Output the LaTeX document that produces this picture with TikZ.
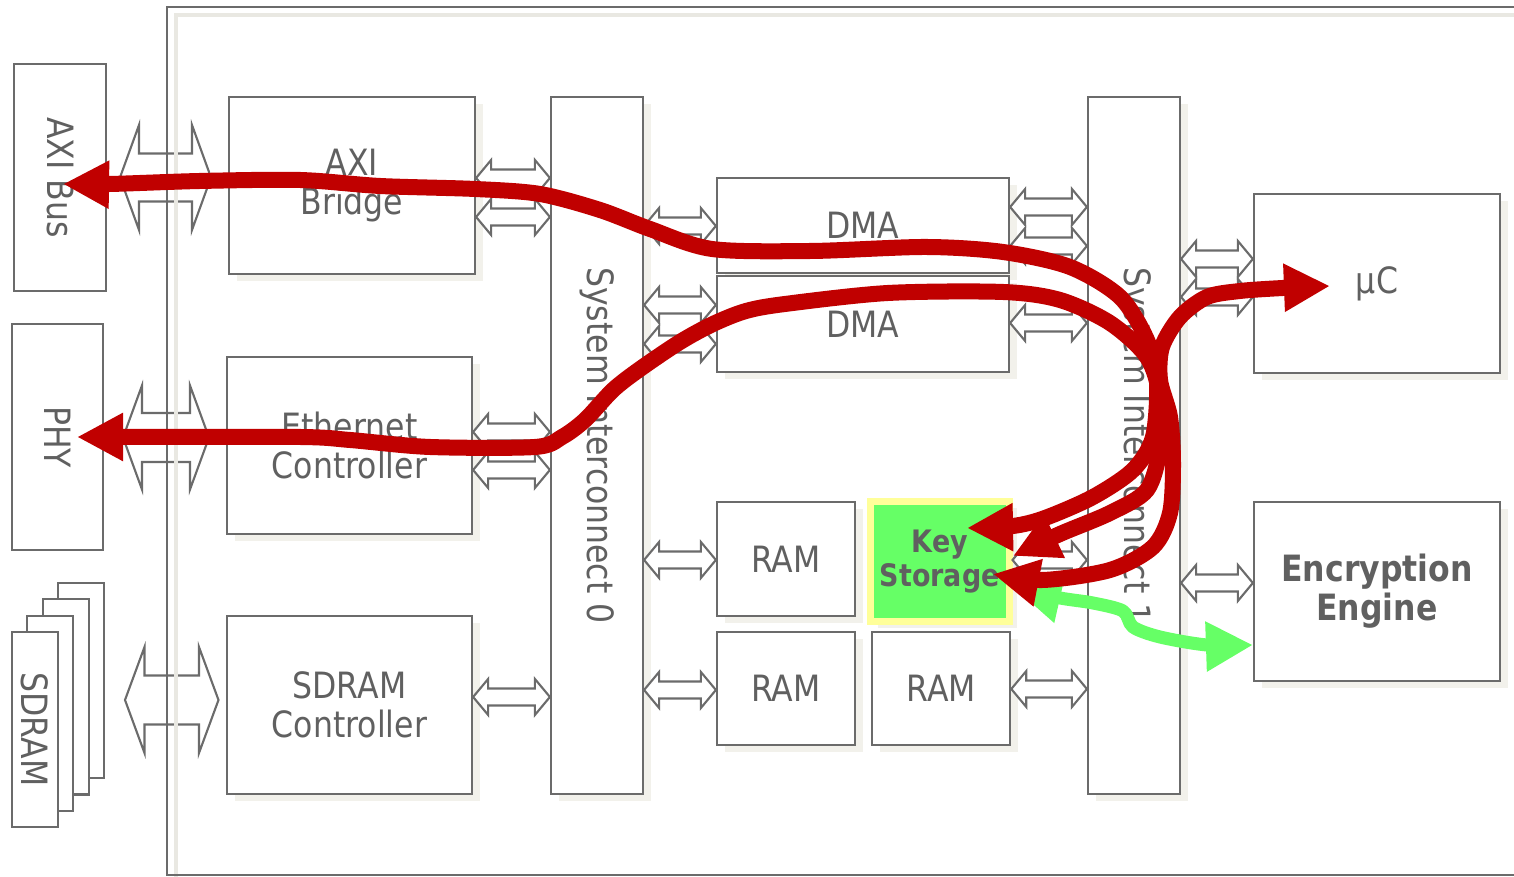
\documentclass[tikz,border=0pt]{standalone}
\usepackage{fontspec}
\setmainfont{DejaVu Sans}[FakeStretch=0.87]
\usepackage{graphicx}
\usetikzlibrary{arrows.meta, positioning, shadows, calc}

\definecolor{linegray}{HTML}{6B6B6B}
\definecolor{textgray}{HTML}{606060}
\definecolor{shadowc}{HTML}{F2F1EB}
\definecolor{framefaint}{HTML}{E9E8E2}
\definecolor{flowred}{HTML}{C00000}
\definecolor{keygreen}{HTML}{66FF66}
\definecolor{glowyellow}{HTML}{FFFF99}

\tikzset{
  redtip/.tip={Triangle[length=0.46cm, width=0.45cm]},
  greentip/.tip={Triangle[length=0.47cm, width=0.47cm]}
}

\newcommand\busarrow[5]{%
  \path #1 coordinate (ba) #2 coordinate (bb);
  \draw[bus] (ba) -- ($(ba)+(#5,-#4)$) -- ($(ba)+(#5,-#3)$) -- ($(bb)+(-#5,-#3)$)
    -- ($(bb)+(-#5,-#4)$) -- (bb) -- ($(bb)+(-#5,#4)$) -- ($(bb)+(-#5,#3)$)
    -- ($(ba)+(#5,#3)$) -- ($(ba)+(#5,#4)$) -- cycle;}

\begin{document}
\begin{tikzpicture}[x=0.01cm, y=-0.01cm,
    box/.style={draw=linegray, line width=0.6pt, fill=white, text=textgray, inner sep=0pt,
      align=center, font=\fontsize{10.3}{11}\selectfont},
    unit/.style={box, drop shadow={shadow xshift=0.08cm, shadow yshift=-0.07cm, fill=shadowc, opacity=1}},
    bus/.style={draw=linegray, line width=0.6pt, fill=white},
    redflow/.style={draw=flowred, line width=0.16cm, line join=round, redtip-redtip},
    greenflow/.style={draw=keygreen, line width=0.13cm, line join=round, greentip-greentip}]
  \useasboundingbox (0,0) rectangle (1514,877);
  % outside
  \node[box, minimum width=0.92cm, minimum height=2.27cm] (axibus) at (60,177.5) {\rotatebox{-90}{AXI Bus}};
  \node[box, minimum width=0.91cm, minimum height=2.26cm] (phy) at (57.5,437) {\rotatebox{-90}{PHY}};
  \foreach \i in {3,2,1}
    \node[box, minimum width=0.46cm, minimum height=1.95cm] (sdram\i) at (35+15.3*\i, 729.5-16.3*\i) {};
  \node[box, minimum width=0.46cm, minimum height=1.95cm] (sdram) at (35,729.5) {\rotatebox{-90}{SDRAM}};
  % chip
  \node[unit, minimum width=2.46cm, minimum height=1.77cm] (bridge) at (352,185.5) {AXI\\Bridge};
  \node[unit, minimum width=2.45cm, minimum height=1.77cm] (eth) at (349.5,445.5) {Ethernet\\Controller};
  \node[unit, minimum width=2.45cm, minimum height=1.78cm] (sdctrl) at (349.5,705) {SDRAM\\Controller};
  \node[unit, minimum width=0.92cm, minimum height=6.97cm] (si0) at (597,445.5) {\rotatebox{-90}{System Interconnect 0}};
  \node[unit, minimum width=2.92cm, minimum height=0.95cm] (dma1) at (863,225.5) {DMA};
  \node[unit, minimum width=2.92cm, minimum height=0.96cm, below=0.01cm of dma1] (dma2) {DMA};
  \node[unit, minimum width=1.38cm, minimum height=1.14cm] (ram1) at (786,559) {RAM};
  \node[unit, minimum width=1.38cm, minimum height=1.13cm] (ram2) at (786,688.5) {RAM};
  \node[unit, minimum width=1.38cm, minimum height=1.13cm, right=0.15cm of ram2] (ram3) {RAM};
  \node[unit, draw=glowyellow, fill=keygreen, line width=0.07cm, minimum width=1.385cm, minimum height=1.195cm,
    font=\bfseries\fontsize{8.8}{9.6}\selectfont] (key) at (939.75,561.25) {Key\\Storage};
  \node[unit, minimum width=0.92cm, minimum height=6.97cm] (si1) at (1134,445.5) {\rotatebox{-90}{System Interconnect 1}};
  \node[unit, minimum width=2.46cm, minimum height=1.79cm] (uc) at (1377,283.5) {µC};
  \node[unit, minimum width=2.46cm, minimum height=1.79cm, font=\bfseries\fontsize{10.3}{11}\selectfont] (enc) at (1377,591.5) {Encryption\\Engine};
  % ports
  \busarrow{(120,177.5)}{(211,177.5)}{24}{52.5}{19}
  \busarrow{(123,437.5)}{(209,437.5)}{24.5}{52}{19}
  \busarrow{(125,700)}{(218.5,700)}{24.5}{53}{19.5}
  \draw[framefaint, line width=0.04cm] (1514,15) -- (176,15) -- (176,877);
  \draw[linegray, line width=0.6pt] (1514,7) -- (167,7) -- (167,875) -- (1514,875);
  % buses
  \foreach \a/\b/\y in {bridge/si0/178, bridge/si0/217, eth/si0/432, eth/si0/470, sdctrl/si0/697,
      si0/dma1/226, si0/dma2/305, si0/dma2/344, si0/ram1/560, si0/ram2/690,
      dma1/si1/207, dma1/si1/246, dma2/si1/323, key/si1/560, ram3/si1/689,
      si1/uc/259, si1/uc/297, si1/enc/583}
    \busarrow{(\a.east |- 0,\y)}{(\b.west |- 0,\y)}{8.5}{18}{15};
  % flows
  \coordinate (axitip) at (63,184);
  \coordinate (phytip) at (77,437);
  \coordinate (uctip) at (1330,286);
  \coordinate (keytipa) at (967,528);
  \coordinate (keytipb) at (1013,556);
  \coordinate (keytipc) at (993,574);
  \coordinate (keytipg) at (1014,588);
  \coordinate (enctip) at (1253,645);
  \draw[greenflow] plot[smooth] coordinates {(keytipg) (1060,598) (1093,603) (1123,611) (1133,627)
    (1160,637) (1207,645) (enctip)};
  \draw[redflow] plot[smooth] coordinates {(axitip) (110,184) (200,181) (300,180) (380,186) (475,189)
    (540,194) (600,210) (650,229) (712,249) (811,251) (926,247) (1003,252) (1070,267) (1120,297)
    (1147,340) (1157,380) (1153,437) (1133,470) (1093,497) (1045,518) (1013,526) (keytipa)};
  \draw[redflow] plot[smooth] coordinates {(phytip) (123,437) (300,437) (350,440) (430,447) (535,447)
    (562,437) (585,420) (613,390) (640,369) (680,342) (713,324) (746,311) (785,304) (888,293)
    (1003,292) (1060,300) (1110,323) (1147,357) (1160,397) (1160,447) (1147,490) (1110,513)
    (1060,534) (keytipb)};
  \draw[redflow] plot[smooth] coordinates {(uctip) (1283,288) (1240,291) (1207,297) (1180,317)
    (1162,347) (1160,380) (1170,417) (1173,463) (1170,513) (1153,547) (1110,570) (1043,580)
    (keytipc)};
\end{tikzpicture}
\end{document}
